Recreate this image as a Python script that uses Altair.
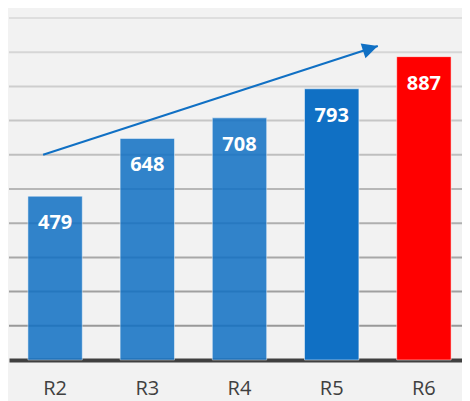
import altair as alt
import pandas as pd

# data
categories = ["R2", "R3", "R4", "R5", "R6"]
values = [479, 648, 708, 793, 887]
grid_values = [100, 200, 300, 400, 500, 600, 700, 800, 900, 1000]
arrow_x = [0.37, 4.0]          # position in band-steps along the category axis
arrow_y = [600, 918]           # value-axis position

# styles
bar_colors = ["#1070c4", "#1070c4", "#1070c4", "#1070c4", "#ff0000"]
FONT = "Open Sans"
PLOT_W = 453      # visible plot width
RANGE_W = 461     # full category range (extends to page edge)
PLOT_H = 342

df = pd.DataFrame({"cat": categories, "val": values})
grid_df = pd.DataFrame({"g": grid_values})
arrow_df = pd.DataFrame({"ax": arrow_x, "ay": arrow_y, "i": [0, 1]})

yscale = alt.Scale(domain=[0, 1000], nice=False, zero=True)
xband = alt.X(
    "cat:N",
    sort=categories,
    scale=alt.Scale(paddingInner=0.41, paddingOuter=0.205, range=[0, RANGE_W]),
    axis=alt.Axis(
        title=None, labelAngle=0, labelFont=FONT, labelFontSize=20,
        labelColor="#404040", labelPadding=18, ticks=False, grid=False,
        domainColor="#404040", domainWidth=4,
    ),
)

grid = alt.Chart(grid_df).mark_rule(strokeWidth=2).encode(
    y=alt.Y("g:Q", scale=yscale, axis=None),
    stroke=alt.Stroke("g:Q", scale=alt.Scale(domain=[100, 1000], range=["#999999", "#dedede"]), legend=None),
)

bars = alt.Chart(df).mark_bar(stroke="white", strokeOpacity=0.5, strokeWidth=1).encode(
    x=xband,
    y=alt.Y("val:Q", scale=yscale, axis=None),
    color=alt.Color("cat:N", scale=alt.Scale(domain=categories, range=bar_colors), legend=None),
    opacity=alt.condition("datum.cat == 'R5' || datum.cat == 'R6'", alt.value(1.0), alt.value(0.85)),
)

labels = alt.Chart(df).mark_text(
    font=FONT, fontSize=20, fontWeight="bold", color="white", baseline="middle", dy=27
).encode(
    x=alt.X("cat:N", sort=categories),
    y=alt.Y("val:Q", scale=yscale, axis=None),
    text=alt.Text("val:Q"),
)

ax_scale = alt.Scale(domain=[0, 5], nice=False, zero=False, range=[0, RANGE_W])
arrow_line = alt.Chart(arrow_df).mark_line(color="#1070c4", strokeWidth=2).encode(
    x=alt.X("ax:Q", scale=ax_scale, axis=None),
    y=alt.Y("ay:Q", scale=yscale, axis=None),
    order="i:Q",
)
arrow_head = alt.Chart(arrow_df).transform_filter("datum.i == 1").mark_point(
    shape="M0,0 L-1,2 L1,2 Z", size=240, angle=72, filled=True, color="#1070c4", opacity=1
).encode(
    x=alt.X("ax:Q", scale=ax_scale, axis=None),
    y=alt.Y("ay:Q", scale=yscale, axis=None),
)

bar_layer = alt.layer(grid, bars, labels)
chart = alt.layer(bar_layer, arrow_line, arrow_head).resolve_scale(
    x="independent"
).properties(
    width=PLOT_W, height=PLOT_H,
    background="#f2f2f2",
    padding={"left": 1, "top": 10, "right": 0, "bottom": 41},
    autosize=alt.AutoSizeParams(type="none"),
).configure_view(stroke=None)

chart.save("out.html", embed_options={"renderer": "svg", "actions": False})
